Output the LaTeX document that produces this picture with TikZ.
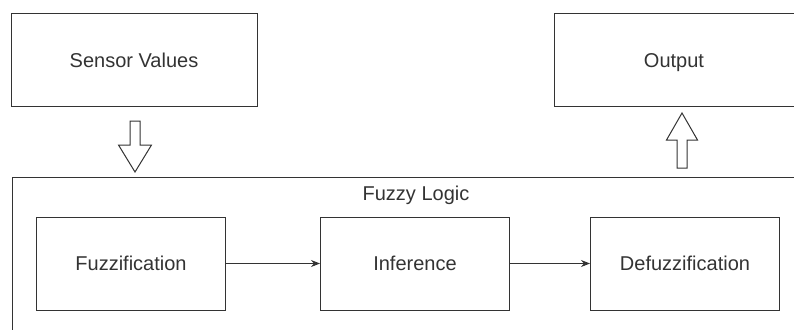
\documentclass[tikz,border=0pt]{standalone}
\usepackage{fontspec}
\setmainfont{Liberation Sans}
\usetikzlibrary{arrows.meta}

\begin{document}
\begin{tikzpicture}[x=1pt, y=-1pt, line width=1pt,
                    every node/.style={font=\fontsize{20}{24}\selectfont, text=black!80, text height=14.3pt, text depth=0pt},
                    block/.style={shape=rectangle, draw=black!80, minimum width=189pt, minimum height=93pt, inner sep=0pt},
                    hollow/.style={draw=black!80, fill=white, line join=miter},
                    flow/.style={draw=black!80, -{Stealth[length=9pt, width=7pt]}}]

                    \useasboundingbox (0,0) rectangle (794,329);
                    \clip (0,0) rectangle (794,329);

                    % Outer container (runs off the page on the right and bottom)
                    \draw[draw=black!80] (12,177) rectangle (820,360);
                    \node (logic) at (416,193.5) {Fuzzy Logic}; % Container title

                    % Top boxes
                    \node[block, minimum width=246pt] (sensor) at (134,60) {Sensor Values}; % Input
                    \node[block, minimum width=240pt] (output) at (674,60) {Output};        % Output

                    % Inner stages
                    \node[block] (fuzz) at (131,263.5) {Fuzzification};   % Left stage
                    \node[block] (infer) at (415,263.5) {Inference};      % Middle stage
                    \node[block] (defuzz) at (685,263.5) {Defuzzification}; % Right stage

                    % Stage connectors
                    \draw[flow] (fuzz) -- (infer);
                    \draw[flow] (infer) -- (defuzz);

                    % Hollow block arrows (input down, output up)
                    \coordinate (down) at (135,121);
                    \draw[hollow] (down) ++(-5,0) -- ++(10,0) -- ++(0,24) -- ++(11.5,0)
                                  -- ++(-16.5,27) -- ++(-16.5,-27) -- ++(11.5,0) -- cycle;
                    \coordinate (up) at (682,168);
                    \draw[hollow] (up) ++(-5,0) -- ++(10,0) -- ++(0,-28) -- ++(10.5,0)
                                  -- ++(-15.5,-27) -- ++(-15.5,27) -- ++(10.5,0) -- cycle;
                \end{tikzpicture}
\end{document}
